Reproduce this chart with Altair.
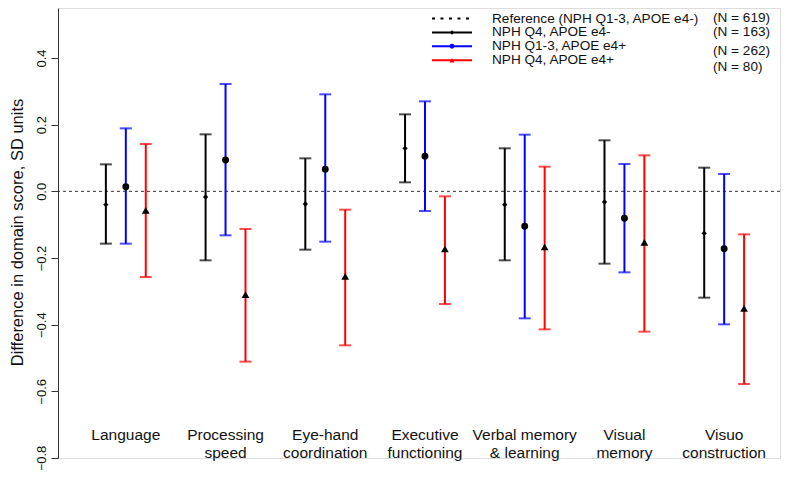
import altair as alt
import pandas as pd

# ---------------- data ----------------
domains = ["Language", "Processing\nspeed", "Eye-hand\ncoordination", "Executive\nfunctioning",
           "Verbal memory\n& learning", "Visual\nmemory", "Visuo\nconstruction"]
series = ["NPH Q4, APOE e4-", "NPH Q1-3, APOE e4+", "NPH Q4, APOE e4+"]

est_q4_neg = [-0.040, -0.017, -0.038, 0.129, -0.040, -0.032, -0.126]
lo_q4_neg = [-0.157, -0.207, -0.175, 0.027, -0.207, -0.217, -0.319]
hi_q4_neg = [0.081, 0.171, 0.099, 0.231, 0.129, 0.153, 0.071]

est_q13_pos = [0.014, 0.094, 0.066, 0.105, -0.105, -0.081, -0.172]
lo_q13_pos = [-0.157, -0.132, -0.151, -0.059, -0.381, -0.243, -0.399]
hi_q13_pos = [0.189, 0.322, 0.291, 0.270, 0.170, 0.082, 0.052]

est_q4_pos = [-0.057, -0.310, -0.255, -0.173, -0.167, -0.153, -0.351]
lo_q4_pos = [-0.257, -0.511, -0.462, -0.338, -0.414, -0.421, -0.578]
hi_q4_pos = [0.142, -0.113, -0.055, -0.015, 0.074, 0.108, -0.129]

legend_labels = ["Reference (NPH Q1-3, APOE e4-)", "NPH Q4, APOE e4-", "NPH Q1-3, APOE e4+", "NPH Q4, APOE e4+"]
legend_n = ["(N = 619)", "(N = 163)", "(N = 262)", "(N = 80)"]

y_ticks = [-0.8, -0.6, -0.4, -0.2, 0.0, 0.2, 0.4]

# ---------------- styling / layout ----------------
series_color = {series[0]: "#000000", series[1]: "#0000FF", series[2]: "#FF0000"}
series_offset = {series[0]: -0.2, series[1]: 0.0, series[2]: 0.2}
series_shape = {series[0]: "diamond", series[1]: "circle", series[2]: "triangle-up"}
series_size = {series[0]: 28, series[1]: 48, series[2]: 60}

rows = []
for s, est, lo, hi in [(series[0], est_q4_neg, lo_q4_neg, hi_q4_neg),
                       (series[1], est_q13_pos, lo_q13_pos, hi_q13_pos),
                       (series[2], est_q4_pos, lo_q4_pos, hi_q4_pos)]:
    for i, d in enumerate(domains):
        rows.append(dict(domain=d, series=s, pos=i + 1 + series_offset[s],
                         est=est[i], lo=lo[i], hi=hi[i],
                         color=series_color[s], shape=series_shape[s], size=series_size[s]))
df = pd.DataFrame(rows)

cat_df = pd.DataFrame({"label": domains, "pos": list(range(1, len(domains) + 1))})

W, H = 722, 450
xscale = alt.Scale(domain=[0.32, 7.56], nice=False, zero=False)
yscale = alt.Scale(domain=[-0.8, 0.55], nice=False, zero=False)

base = alt.Chart(df)

bars = base.mark_rule(strokeWidth=2).encode(
    x=alt.X("pos:Q", scale=xscale, axis=None),
    y=alt.Y("lo:Q", scale=yscale,
            axis=alt.Axis(values=y_ticks, format=".1f", title="Difference in domain score, SD units",
                          labelAngle=270, labelAlign="center", labelBaseline="bottom",
                          labelPadding=3, tickSize=7, tickColor="#333333", domainColor="#333333",
                          labelFontSize=13, labelColor="#111111", labelFont="Liberation Sans",
                          labelOverlap=False, labelFlush=False,
                          titleFont="Liberation Sans", titleFontSize=16.5, titleFontWeight="normal",
                          titleColor="#111111", titleAngle=270, titleX=-41, titleY=224,
                          titleAlign="center", titleBaseline="middle", grid=False)),
    y2="hi:Q",
    color=alt.Color("color:N", scale=None),
)

cap_lo = base.mark_tick(orient="horizontal", size=12, thickness=2).encode(
    x=alt.X("pos:Q", scale=xscale), y=alt.Y("lo:Q", scale=yscale),
    color=alt.Color("color:N", scale=None))
cap_hi = base.mark_tick(orient="horizontal", size=12, thickness=2).encode(
    x=alt.X("pos:Q", scale=xscale), y=alt.Y("hi:Q", scale=yscale),
    color=alt.Color("color:N", scale=None))

points = base.mark_point(filled=True, opacity=1, color="black").encode(
    x=alt.X("pos:Q", scale=xscale), y=alt.Y("est:Q", scale=yscale),
    shape=alt.Shape("shape:N", scale=None),
    size=alt.Size("size:Q", scale=None),
)

zero_df = pd.DataFrame({"y": [0.0]})
zero = alt.Chart(zero_df).mark_rule(strokeDash=[3, 3], strokeWidth=1, color="#333333").encode(
    y=alt.Y("y:Q", scale=yscale))

cats = alt.Chart(cat_df).mark_text(fontSize=15.5, font="Liberation Sans", lineBreak="\n",
                                   lineHeight=18.3, baseline="middle", align="center",
                                   color="#111111").encode(
    x=alt.X("pos:Q", scale=xscale), y=alt.value(427), text="label:N")

# ---------------- legend (pixel layout) ----------------
leg_df = pd.DataFrame({
    "label": legend_labels,
    "n": legend_n,
    "row": [0, 1, 2, 3],
    "color": ["#000000", "#000000", "#0000FF", "#FF0000"],
    "shape": ["circle", "diamond", "circle", "triangle-up"],
    "msize": [0, 20, 24, 26],
    "dash": ["dot", "solid", "solid", "solid"],
    "ny": [10.3, 24.3, 42.7, 58.7],
})
leg = alt.Chart(leg_df).transform_calculate(ly="10.5 + datum.row * 13.9")

leg_lines_solid = leg.transform_filter("datum.dash == 'solid'").mark_rule(strokeWidth=2).encode(
    x=alt.value(374), x2=alt.value(414), y=alt.Y("ly:Q", scale=None, axis=None),
    color=alt.Color("color:N", scale=None))
leg_lines_dot = leg.transform_filter("datum.dash == 'dot'").mark_rule(strokeWidth=2, strokeDash=[3, 5.5]).encode(
    x=alt.value(374), x2=alt.value(414), y=alt.Y("ly:Q", scale=None, axis=None),
    color=alt.Color("color:N", scale=None))
leg_marks = leg.transform_filter("datum.msize > 0").mark_point(filled=True, opacity=1).encode(
    x=alt.value(394), y=alt.Y("ly:Q", scale=None, axis=None),
    color=alt.Color("color:N", scale=None), shape=alt.Shape("shape:N", scale=None),
    size=alt.Size("msize:Q", scale=None))
leg_text = leg.mark_text(align="left", baseline="middle", fontSize=13.6, font="Liberation Sans",
                         color="#111111").encode(
    x=alt.value(434), y=alt.Y("ly:Q", scale=None, axis=None), text="label:N")
leg_n = leg.mark_text(align="left", baseline="middle", fontSize=13.6, font="Liberation Sans",
                      color="#111111").encode(
    x=alt.value(655), y=alt.Y("ny:Q", scale=None, axis=None), text="n:N")

chart = alt.layer(zero, bars, cap_lo, cap_hi, points, cats,
                  leg_lines_dot, leg_lines_solid, leg_marks, leg_text, leg_n).properties(
    width=W, height=H,
    autosize=alt.AutoSizeParams(type="none"),
    padding={"left": 50, "top": 0, "right": 12, "bottom": 12},
).configure_view(stroke="#333333", strokeWidth=1).configure(background="white")

chart.save("out.html", embed_options={"renderer": "svg", "actions": False})
